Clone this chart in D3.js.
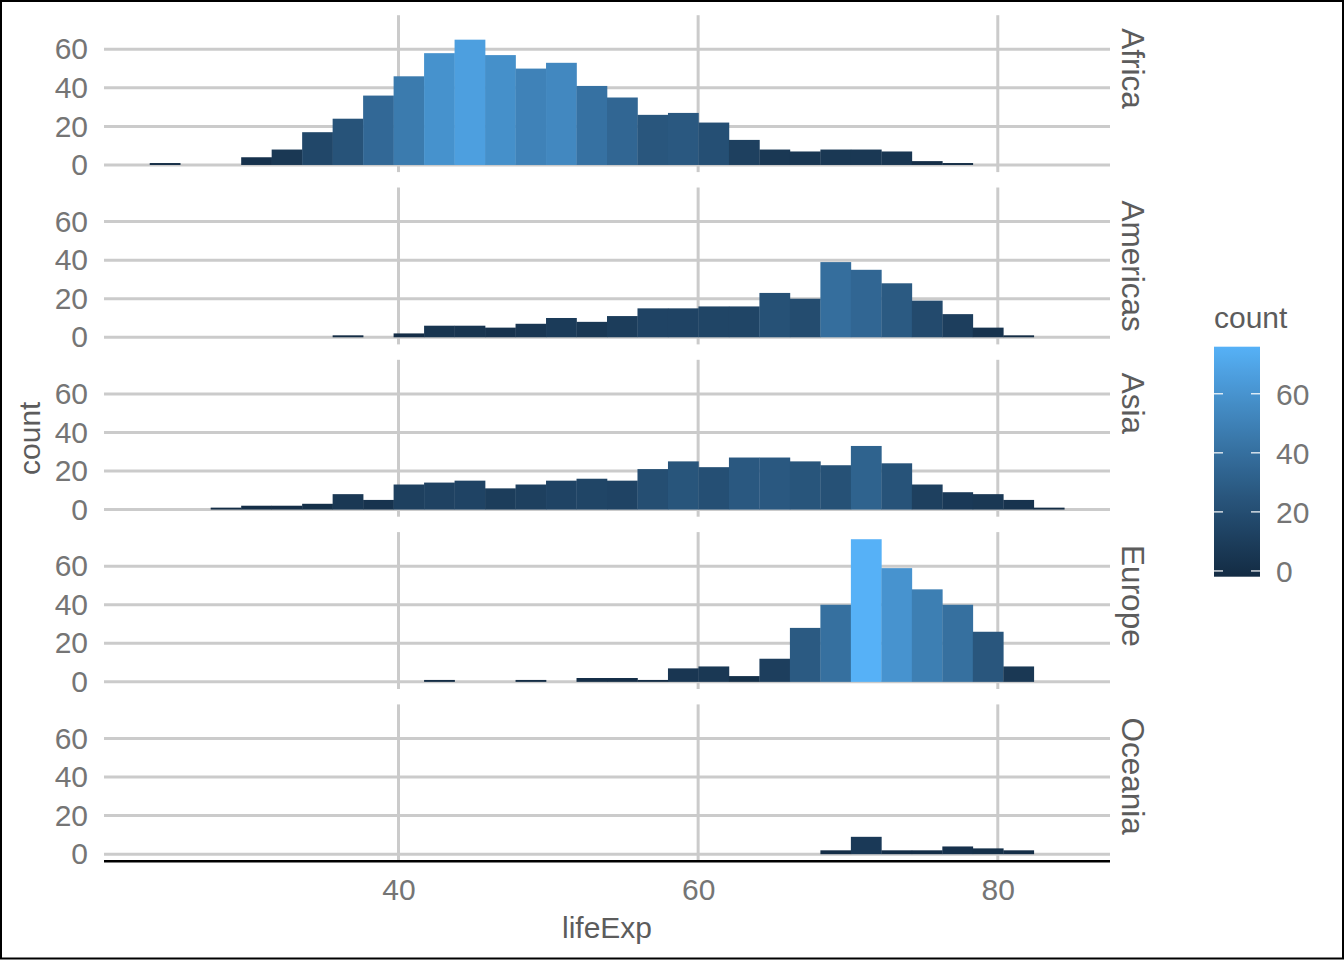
<!DOCTYPE html>
<html>
<head>
<meta charset="utf-8">
<script src="https://cdn.jsdelivr.net/npm/d3@7"></script>
<style>
  body { margin: 0; background: #fff; }
  svg { display: block; font-family: "Liberation Sans", Arial, sans-serif; }
</style>
</head>
<body>
<div id="chart"></div>
<script>
// lifeExp histogram, 30 bins, faceted by continent
var lifeExpRange = [23.599, 82.603];
var binCount = 30;
var continents = ["Africa", "Americas", "Asia", "Europe", "Oceania"];

var africa   = [1, 0, 0, 4, 8, 17, 24, 36, 46, 58, 65, 57, 50, 53, 41, 35, 26, 27, 22, 13, 8, 7, 8, 8, 7, 2, 1, 0, 0, 0];
var americas = [0, 0, 0, 0, 0, 0, 1, 0, 2, 6, 6, 5, 7, 10, 8, 11, 15, 15, 16, 16, 23, 20, 39, 35, 28, 19, 12, 5, 1, 0];
var asia     = [0, 0, 1, 2, 2, 3, 8, 5, 13, 14, 15, 11, 13, 15, 16, 15, 21, 25, 22, 27, 27, 25, 23, 33, 24, 13, 9, 8, 5, 1];
var europe   = [0, 0, 0, 0, 0, 0, 0, 0, 0, 1, 0, 0, 1, 0, 2, 2, 1, 7, 8, 3, 12, 28, 40, 74, 59, 48, 40, 26, 8, 0];
var oceania  = [0, 0, 0, 0, 0, 0, 0, 0, 0, 0, 0, 0, 0, 0, 0, 0, 0, 0, 0, 0, 0, 0, 2, 9, 2, 2, 4, 3, 2, 0];

var xTicks = [40, 60, 80];
var yTicks = [0, 20, 40, 60];
var legendTicks = [0, 20, 40, 60];

var series = [africa, americas, asia, europe, oceania];

var W = 1344, H = 960;
var plot = { left: 104, right: 1110, top: 15.2, panelH: 156.9, pitch: 172.3 };
var tickColor = "#757575", titleColor = "#5c5c5c";

// bin breaks the ggplot way: width = range/(bins-1), boundary = width/2
var bw = (lifeExpRange[1] - lifeExpRange[0]) / (binCount - 1);
var boundary = bw / 2;
var origin = boundary + Math.floor((lifeExpRange[0] - boundary) / bw) * bw;
var breaks = d3.range(binCount + 1).map(function(i) { return origin + i * bw; });

var xMin = breaks[0], xMax = breaks[breaks.length - 1];
var xPad = (xMax - xMin) * 0.05;
var x = d3.scaleLinear().domain([xMin - xPad, xMax + xPad]).range([plot.left, plot.right]);

var maxCount = d3.max(series, function(s) { return d3.max(s); });
var color = d3.scaleLinear().domain([0, maxCount]).range(["#132B43", "#56B1F7"]).interpolate(d3.interpolateLab);

var svg = d3.select("#chart").append("svg")
    .attr("width", W).attr("height", H);

svg.append("rect").attr("width", W).attr("height", H).attr("fill", "#fff");

continents.forEach(function(name, pi) {
    var top = plot.top + pi * plot.pitch;
    var y = d3.scaleLinear()
        .domain([-0.05 * maxCount, 1.05 * maxCount])
        .range([top + plot.panelH, top]);

    var g = svg.append("g").attr("class", "panel");

    // grid
    g.selectAll(".hgrid").data(yTicks).enter().append("line")
        .attr("x1", plot.left).attr("x2", plot.right)
        .attr("y1", function(d) { return y(d); }).attr("y2", function(d) { return y(d); })
        .attr("stroke", "#cbcbcb").attr("stroke-width", 3);
    g.selectAll(".vgrid").data(xTicks).enter().append("line")
        .attr("x1", function(d) { return x(d); }).attr("x2", function(d) { return x(d); })
        .attr("y1", top).attr("y2", top + plot.panelH)
        .attr("stroke", "#cbcbcb").attr("stroke-width", 3);

    // bars
    var bins = series[pi].map(function(c, i) { return { x0: breaks[i], x1: breaks[i + 1], count: c }; })
        .filter(function(d) { return d.count > 0; });
    g.selectAll(".bar").data(bins).enter().append("rect")
        .attr("x", function(d) { return x(d.x0); })
        .attr("width", function(d) { return x(d.x1) - x(d.x0) + 0.3; })
        .attr("y", function(d) { return y(d.count); })
        .attr("height", function(d) { return y(0) - y(d.count); })
        .attr("fill", function(d) { return color(d.count); });

    // y axis labels
    var ya = g.append("g").attr("transform", "translate(" + plot.left + ",0)")
        .call(d3.axisLeft(y).tickValues(yTicks).tickSize(0).tickPadding(16));
    ya.select(".domain").remove();
    ya.selectAll("text").attr("fill", tickColor).style("font-size", "30px")
        .attr("font-family", null);

    // strip label
    g.append("text")
        .attr("transform", "translate(1122," + (top + 13) + ") rotate(90)")
        .attr("text-anchor", "start")
        .attr("fill", titleColor)
        .style("font-size", "31.5px")
        .text(name);
});

// bottom axis line + labels
var bottom = plot.top + 4 * plot.pitch + plot.panelH;
svg.append("line")
    .attr("x1", plot.left).attr("x2", plot.right)
    .attr("y1", bottom).attr("y2", bottom)
    .attr("stroke", "#000").attr("stroke-width", 2.6);

var xa = svg.append("g").attr("transform", "translate(0," + bottom + ")")
    .call(d3.axisBottom(x).tickValues(xTicks).tickSize(0).tickPadding(17));
xa.select(".domain").remove();
xa.selectAll("text").attr("fill", tickColor).style("font-size", "30px").attr("font-family", null);

// axis titles
svg.append("text")
    .attr("x", (plot.left + plot.right) / 2).attr("y", 938)
    .attr("text-anchor", "middle").attr("fill", titleColor)
    .style("font-size", "30px").text("lifeExp");

svg.append("text")
    .attr("transform", "translate(40," + ((plot.top + bottom) / 2) + ") rotate(-90)")
    .attr("text-anchor", "middle").attr("fill", titleColor)
    .style("font-size", "30px").text("count");

// legend
var lg = { x: 1214, y: 346.7, w: 46, h: 230 };
var defs = svg.append("defs");
var grad = defs.append("linearGradient").attr("id", "countGrad")
    .attr("x1", 0).attr("y1", 1).attr("x2", 0).attr("y2", 0);
d3.range(21).forEach(function(i) {
    grad.append("stop").attr("offset", (i / 20 * 100) + "%")
        .attr("stop-color", color(maxCount * i / 20));
});
svg.append("rect")
    .attr("x", lg.x).attr("y", lg.y).attr("width", lg.w).attr("height", lg.h)
    .attr("fill", "url(#countGrad)");

var binPx = lg.h / 20;
var ly = d3.scaleLinear().domain([0, maxCount])
    .range([lg.y + lg.h - binPx / 2, lg.y + binPx / 2]);

var legendG = svg.append("g");
legendTicks.forEach(function(t) {
    legendG.append("line").attr("x1", lg.x).attr("x2", lg.x + 9)
        .attr("y1", ly(t)).attr("y2", ly(t)).attr("stroke", "#fff").attr("stroke-width", 1.2);
    legendG.append("line").attr("x1", lg.x + lg.w - 9).attr("x2", lg.x + lg.w)
        .attr("y1", ly(t)).attr("y2", ly(t)).attr("stroke", "#fff").attr("stroke-width", 1.2);
    legendG.append("text").attr("x", 1276).attr("y", ly(t)).attr("dy", "0.36em")
        .attr("fill", tickColor).style("font-size", "30px").text(t);
});
svg.append("text").attr("x", 1214).attr("y", 328)
    .attr("fill", titleColor).style("font-size", "30px").text("count");

// frame
svg.append("rect").attr("x", 1).attr("y", 1).attr("width", W - 2).attr("height", H - 2.5)
    .attr("fill", "none").attr("stroke", "#000").attr("stroke-width", 2);
</script>
</body>
</html>
